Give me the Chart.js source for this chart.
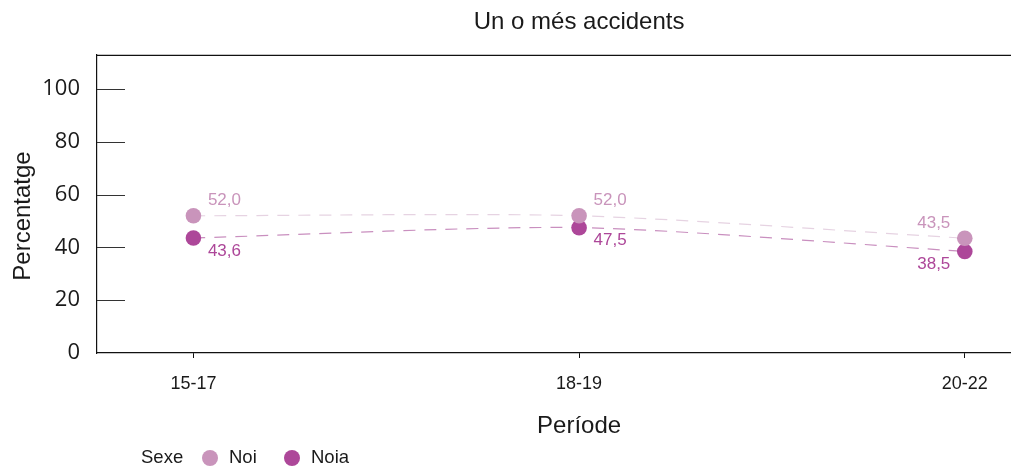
<!DOCTYPE html>
<html>
<head>
<meta charset="utf-8">
<script src="https://cdn.jsdelivr.net/npm/chart.js@4"></script>
<style>
  body { margin: 0; overflow: hidden; background: #fff; }
  #wrap { width: 1069px; height: 466px; }
</style>
</head>
<body>
<div id="wrap"><canvas id="chart" width="1069" height="466"></canvas></div>
<script>
var periods = ['15-17', '18-19', '20-22'];
var noiValues = [52.0, 52.0, 43.5];
var noiaValues = [43.6, 47.5, 38.5];
var seriesNames = ['Noi', 'Noia'];
var yTicks = [0, 20, 40, 60, 80, 100];

var noiColor = '#c994bb';
var noiaColor = '#ad4799';

function toPoints(values) {
  return values.map(function(v, i) { return { x: i, y: v }; });
}

function fmt(v) {
  return v.toFixed(1).replace('.', ',');
}

var decor = {
  id: 'decor',
  beforeDatasetsDraw: function(chart) {
    var ctx = chart.ctx;
    var area = chart.chartArea;
    var y = chart.scales.y;
    ctx.save();
    // top border of the panel
    ctx.strokeStyle = '#111';
    ctx.lineWidth = 1.2;
    ctx.beginPath();
    ctx.moveTo(area.left, area.top + 0.5);
    ctx.lineTo(area.right, area.top + 0.5);
    ctx.stroke();
    // inward y ticks
    ctx.strokeStyle = '#333';
    ctx.lineWidth = 1;
    y.ticks.forEach(function(t) {
      if (t.value === 0) return;
      var py = Math.round(y.getPixelForValue(t.value)) + 0.5;
      ctx.beginPath();
      ctx.moveTo(area.left, py);
      ctx.lineTo(area.left + 28, py);
      ctx.stroke();
    });
    ctx.restore();
  },
  afterDatasetsDraw: function(chart) {
    var ctx = chart.ctx;
    ctx.save();
    ctx.font = '17px "Liberation Sans", Arial, sans-serif';
    ctx.textAlign = 'center';
    ctx.textBaseline = 'middle';
    chart.data.datasets.forEach(function(ds, di) {
      var meta = chart.getDatasetMeta(di);
      ctx.fillStyle = ds.labelColor;
      meta.data.forEach(function(pt, i) {
        var dx = i === meta.data.length - 1 ? -31 : 31;
        var dy = di === 0 ? -15 : 13;
        ctx.fillText(fmt(ds.data[i].y), pt.x + dx, pt.y + dy);
      });
    });
    ctx.restore();
  },
  afterDraw: function(chart) {
    var ctx = chart.ctx;
    ctx.save();
    ctx.fillStyle = '#1a1a1a';
    // y axis title
    ctx.font = '24px "Liberation Sans", Arial, sans-serif';
    ctx.translate(23, 216);
    ctx.rotate(-Math.PI / 2);
    ctx.textAlign = 'center';
    ctx.textBaseline = 'middle';
    ctx.fillText('Percentatge', 0, 0);
    ctx.restore();

    // legend
    ctx.save();
    ctx.font = '18.5px "Liberation Sans", Arial, sans-serif';
    ctx.textBaseline = 'middle';
    ctx.textAlign = 'left';
    ctx.fillStyle = '#1a1a1a';
    var ly = 458;
    ctx.fillText('Sexe', 141, ly);
    var xs = [210, 292];
    chart.data.datasets.forEach(function(ds, di) {
      ctx.fillStyle = ds.pointBackgroundColor;
      ctx.beginPath();
      ctx.arc(xs[di], ly, 8, 0, Math.PI * 2);
      ctx.fill();
      ctx.fillStyle = '#1a1a1a';
      ctx.fillText(ds.label, xs[di] + 19, ly);
    });
    ctx.restore();
  }
};

var ctx = document.getElementById('chart').getContext('2d');
var chart = new Chart(ctx, {
  type: 'line',
  data: {
    datasets: [
      {
        label: seriesNames[0],
        data: toPoints(noiValues),
        borderColor: '#e6d3e2',
        borderWidth: 1.2,
        borderDash: [12, 9],
        tension: 0.25,
        pointRadius: 7.8,
        pointBackgroundColor: noiColor,
        pointBorderColor: noiColor,
        pointBorderWidth: 0,
        labelColor: '#c994bb'
      },
      {
        label: seriesNames[1],
        data: toPoints(noiaValues),
        borderColor: '#c98fbf',
        borderWidth: 1.2,
        borderDash: [12, 9],
        tension: 0.25,
        pointRadius: 7.8,
        pointBackgroundColor: noiaColor,
        pointBorderColor: noiaColor,
        pointBorderWidth: 0,
        labelColor: '#ad4799'
      }
    ]
  },
  options: {
    responsive: false,
    animation: false,
    events: [],
    layout: { padding: 0 },
    plugins: {
      legend: { display: false },
      tooltip: { enabled: false },
      title: {
        display: true,
        fullSize: false,
        text: 'Un o més accidents',
        color: '#1a1a1a',
        font: { family: '"Liberation Sans", Arial, sans-serif', size: 24, weight: 'normal' },
        padding: { top: 8, bottom: 18 }
      }
    },
    scales: {
      x: {
        type: 'linear',
        min: -0.25,
        max: 2.25,
        afterBuildTicks: function(s) {
          s.ticks = periods.map(function(p, i) { return { value: i }; });
        },
        afterFit: function(s) { s.height = 113; },
        ticks: {
          callback: function(v) { return periods[v]; },
          color: '#1a1a1a',
          font: { family: '"Liberation Sans", Arial, sans-serif', size: 18 },
          padding: 15,
          maxRotation: 0
        },
        grid: { drawOnChartArea: false, drawTicks: true, tickLength: 5, color: '#111' },
        border: { display: true, color: '#111', width: 1.2 },
        title: {
          display: true,
          text: 'Període',
          color: '#1a1a1a',
          font: { family: '"Liberation Sans", Arial, sans-serif', size: 24 },
          padding: { top: 0, bottom: 25 }
        }
      },
      y: {
        min: 0,
        max: 113,
        afterBuildTicks: function(s) {
          s.ticks = yTicks.map(function(v) { return { value: v }; });
        },
        afterFit: function(s) { s.width = 97; },
        ticks: {
          color: '#1a1a1a',
          font: { family: '"Open Sans", sans-serif', size: 22 },
          padding: 17
        },
        grid: { display: false, drawTicks: false },
        border: { display: true, color: '#111', width: 1.2 }
      }
    }
  },
  plugins: [decor]
});
</script>
</body>
</html>
